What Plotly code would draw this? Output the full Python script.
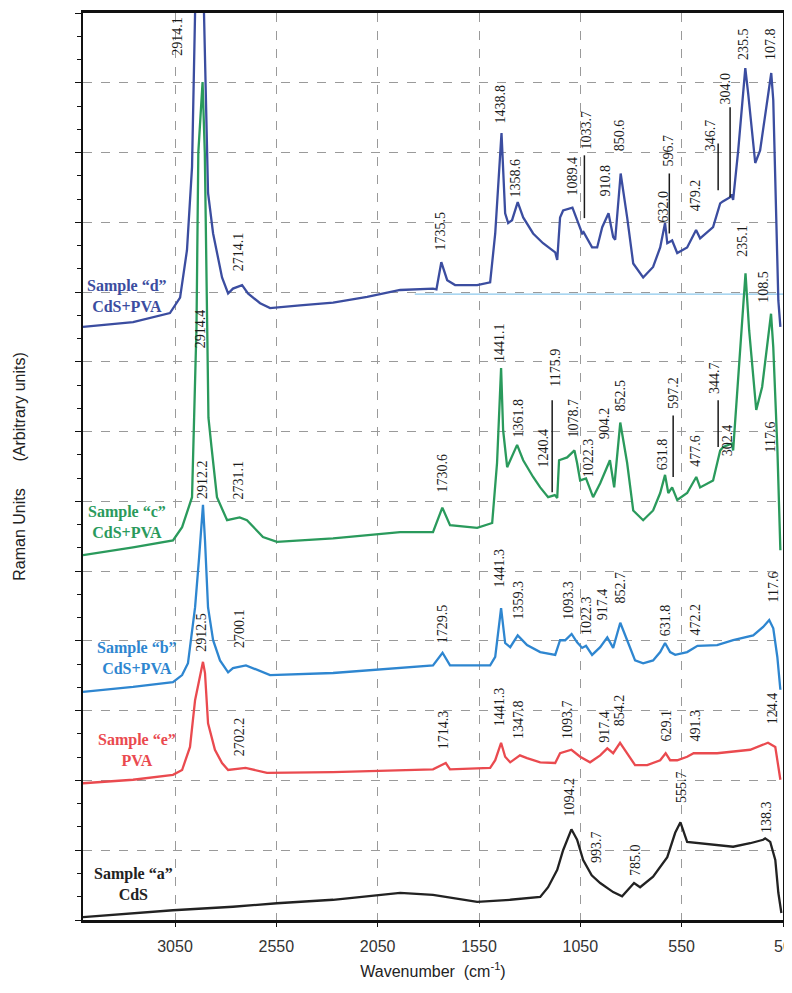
import plotly.graph_objects as go

# ---------------- data (wavenumber cm^-1, Raman intensity in arbitrary units) ----------------
d_wn = [3504, 3257, 3075, 3025, 2991, 2966, 2951, 2917, 2907, 2887, 2862, 2818, 2788, 2764, 2719, 2690,
        2630, 2581, 2433, 2270, 2102, 1939, 1777, 1760, 1736, 1707, 1668, 1559, 1495, 1470, 1439, 1421,
        1406, 1387, 1359, 1332, 1283, 1234, 1174, 1164, 1150, 1135, 1089, 1066, 1041, 1034, 1026, 992,
        967, 942, 911, 888, 878, 851, 819, 789, 740, 691, 656, 632, 621, 597, 572, 523, 479, 459, 395,
        360, 347, 311, 304, 296, 271, 236, 222, 187, 163, 108, 98, 73, 63]
d_int = [8.50, 8.57, 8.70, 8.92, 9.60, 10.79, 13.0, 14.5, 13.0, 10.42, 9.84, 9.21, 8.98, 9.05, 9.10, 8.98,
         8.84, 8.77, 8.81, 8.85, 8.93, 9.03, 9.05, 9.04, 9.43, 9.17, 9.10, 9.10, 9.14, 9.84, 11.28, 10.13,
         9.99, 10.03, 10.29, 10.07, 9.84, 9.70, 9.57, 9.46, 10.07, 10.17, 10.21, 10.03, 9.84, 9.86, 9.82, 9.64,
         9.64, 9.93, 10.13, 9.79, 9.75, 10.70, 10.07, 9.41, 9.21, 9.36, 9.64, 9.99, 9.70, 9.74, 9.56, 9.64, 9.89, 9.77, 9.93,
         10.27, 10.30, 10.36, 10.40, 10.32, 11.03, 12.21, 11.85, 10.85, 11.03, 12.14, 11.75, 8.88, 8.50]

c_wn = [3504, 3257, 3060, 3015, 2966, 2944, 2935, 2914, 2903, 2893, 2885, 2870, 2843, 2793, 2731, 2695,
        2616, 2547, 2270, 1939, 1777, 1731, 1693, 1559, 1485, 1461, 1441, 1431, 1411, 1362, 1332, 1283,
        1248, 1209, 1176, 1164, 1155, 1115, 1079, 1066, 1051, 1022, 987, 952, 904, 883, 853, 819, 789,
        740, 691, 656, 632, 616, 597, 572, 523, 478, 459, 395, 360, 345, 302, 296, 271, 235, 217, 182,
        153, 109, 98, 78, 63]
c_int = [5.23, 5.34, 5.44, 5.63, 6.06, 8.50, 11.0, 12.01, 11.0, 8.50, 7.20, 6.78, 6.06, 5.73, 5.77, 5.73,
         5.49, 5.42, 5.47, 5.56, 5.56, 5.91, 5.66, 5.62, 5.69, 6.55, 7.91, 7.02, 6.49, 6.81, 6.59, 6.35,
         6.20, 6.06, 6.09, 6.05, 6.59, 6.63, 6.73, 6.55, 6.30, 6.33, 6.06, 6.26, 6.59, 6.20, 7.13, 6.55, 5.87,
         5.73, 5.87, 6.12, 6.38, 6.12, 6.20, 6.02, 6.12, 6.35, 6.20, 6.30, 6.73, 6.78, 6.83, 6.73, 7.74, 9.27, 8.45, 7.31,
         7.64, 8.69, 8.21, 6.78, 5.30]

b_wn = [3504, 3257, 3060, 3015, 2986, 2951, 2931, 2912, 2902, 2887, 2862, 2828, 2788, 2764, 2700, 2645,
        2581, 2270, 1939, 1777, 1730, 1693, 1495, 1470, 1441, 1421, 1396, 1359, 1313, 1248, 1174, 1150,
        1125, 1093, 1066, 1041, 1022, 992, 952, 917, 888, 853, 819, 780, 740, 691, 656, 632, 607, 582,
        523, 472, 375, 296, 197, 148, 118, 98, 78, 63]
b_int = [3.27, 3.34, 3.41, 3.51, 3.68, 4.48, 5.20, 5.95, 5.44, 4.48, 4.01, 3.72, 3.55, 3.61, 3.65, 3.58,
         3.51, 3.54, 3.61, 3.65, 3.83, 3.65, 3.65, 3.77, 4.47, 3.97, 3.91, 4.08, 3.94, 3.84, 3.80, 4.01,
         4.01, 4.10, 3.98, 3.90, 3.93, 3.80, 3.91, 4.05, 3.90, 4.26, 4.01, 3.72, 3.68, 3.72, 3.84, 3.97, 3.84, 3.80,
         3.84, 3.93, 3.94, 4.01, 4.08, 4.20, 4.30, 4.18, 3.77, 3.30]

e_wn = [3504, 3257, 3060, 3015, 2976, 2951, 2912, 2902, 2887, 2853, 2818, 2788, 2702, 2596, 2270, 1939,
        1777, 1714, 1693, 1495, 1470, 1441, 1421, 1396, 1348, 1313, 1248, 1174, 1150, 1094, 1051, 1002,
        952, 917, 888, 854, 819, 780, 720, 656, 629, 607, 572, 523, 491, 375, 212, 124, 88, 73, 63]
e_int = [1.96, 2.01, 2.08, 2.15, 2.48, 3.15, 3.70, 3.54, 2.82, 2.44, 2.25, 2.15, 2.18, 2.11, 2.12, 2.15,
         2.16, 2.25, 2.16, 2.18, 2.29, 2.54, 2.34, 2.26, 2.36, 2.32, 2.26, 2.25, 2.39, 2.44, 2.34, 2.26,
         2.36, 2.46, 2.39, 2.54, 2.39, 2.22, 2.22, 2.29, 2.39, 2.29, 2.29, 2.34, 2.39, 2.39, 2.44, 2.54, 2.48, 2.19, 2.01]

a_wn = [3504, 3257, 3060, 2764, 2547, 2270, 1939, 1777, 1559, 1396, 1248, 1209, 1164, 1135, 1094, 1066,
        1036, 994, 952, 888, 844, 785, 755, 691, 621, 582, 556, 523, 459, 375, 296, 212, 148, 138, 113,
        88, 73, 58]
a_int = [0.04, 0.10, 0.14, 0.19, 0.24, 0.29, 0.39, 0.36, 0.26, 0.29, 0.33, 0.47, 0.72, 1.00, 1.30, 1.15,
         0.86, 0.64, 0.53, 0.40, 0.34, 0.53, 0.47, 0.62, 0.90, 1.25, 1.40, 1.12, 1.10, 1.07, 1.05, 1.10, 1.15, 1.17, 1.12,
         0.86, 0.39, 0.10]

# sample names, colours and label anchor
sample_names = ["Sample “d”<br>CdS+PVA", "Sample “c”<br>CdS+PVA", "Sample “b”<br>CdS+PVA",
                "Sample “e”<br>PVA", "Sample “a”<br>CdS"]
sample_colors = ["#3B4DA0", "#2A9A5C", "#2E86D0", "#EA4A4F", "#222222"]
sample_label_x = [3287, 3287, 3238, 3238, 3257]
sample_label_y = [8.95, 5.70, 3.75, 2.44, 0.52]

# peak labels: text, x (cm^-1), y (a.u.)
peak_text = ["2914.1", "2714.1", "1735.5", "1438.8", "1358.6", "1089.4", "1033.7", "910.8", "850.6",
             "632.0", "596.7", "479.2", "346.7", "304.0", "235.5", "107.8",
             "2914.4", "2731.1", "1730.6", "1441.1", "1361.8", "1240.4", "1175.9", "1078.7", "1022.3",
             "904.2", "852.5", "631.8", "597.2", "477.6", "344.7", "302.4", "235.1", "108.5", "117.6",
             "2912.2", "2700.1", "1729.5", "1441.3", "1359.3", "1093.3", "1022.3", "917.4", "852.7",
             "631.8", "472.2", "117.6",
             "2912.5", "2702.2", "1714.3", "1441.3", "1347.8", "1093.7", "917.4", "854.2", "629.1",
             "491.3", "124.4",
             "1094.2", "993.7", "785.0", "555.7", "138.3"]
peak_x = [3035, 2739, 1742, 1446, 1372, 1090, 1021, 928, 858, 641, 617, 483, 409, 335, 246, 113,
          2927, 2739, 1732, 1451, 1357, 1234, 1174, 1085, 1011, 933, 853, 641, 592, 483, 385, 320, 251, 148, 113,
          2917, 2734, 1732, 1451, 1357, 1110, 1016, 937, 853, 626, 483, 98,
          2917, 2734, 1727, 1451, 1352, 1110, 928, 853, 626, 483, 98,
          1105, 967, 780, 552, 128]
peak_y = [12.66, 9.57, 9.87, 11.69, 10.63, 10.66, 11.32, 10.60, 11.25, 10.23, 11.03, 10.39, 11.25, 11.92, 12.56, 12.56,
          8.48, 6.30, 6.40, 8.27, 7.19, 6.76, 7.92, 7.19, 6.62, 7.12, 7.52, 6.68, 7.56, 6.73, 7.77, 6.88, 9.74, 9.08, 6.92,
          6.32, 4.17, 4.24, 5.04, 4.58, 4.58, 4.36, 4.53, 4.77, 4.30, 4.31, 4.77,
          4.13, 2.62, 2.72, 3.05, 2.87, 2.87, 2.77, 3.01, 2.79, 2.79, 3.04,
          1.76, 1.05, 0.86, 1.91, 1.48]

# leader lines under some labels: x, y_top, y_bottom
leader_x = [1030, 611, 370, 311, 1189, 592, 370]
leader_y0 = [10.96, 10.70, 11.13, 11.65, 7.45, 7.23, 7.45]
leader_y1 = [10.06, 9.84, 10.46, 10.36, 6.13, 6.35, 6.78]

x_ticks = [3050, 2550, 2050, 1550, 1050, 550, 50]

# ---------------- figure ----------------
fig = go.Figure()
series = [(d_wn, d_int), (c_wn, c_int), (b_wn, b_int), (e_wn, e_int), (a_wn, a_int)]
for (xs, ys), col, name in zip(series, sample_colors, sample_names):
    fig.add_trace(go.Scatter(x=xs, y=ys, mode="lines", line=dict(color=col, width=2.3),
                             name=name.replace("<br>", " "), showlegend=False))

annotations = []
for txt, col, x, y in zip(sample_names, sample_colors, sample_label_x, sample_label_y):
    annotations.append(dict(x=x, y=y, xref="x", yref="y", text="<b>" + txt + "</b>", showarrow=False,
                            font=dict(family="Liberation Serif", size=16, color=col),
                            xanchor="center", yanchor="middle", align="center"))
for txt, x, y in zip(peak_text, peak_x, peak_y):
    annotations.append(dict(x=x, y=y, xref="x", yref="y", text=txt, showarrow=False, textangle=-90,
                            font=dict(family="Liberation Serif", size=14, color="#1a1a1a"),
                            xanchor="center", yanchor="middle"))

shapes = []
for x, y0, y1 in zip(leader_x, leader_y0, leader_y1):
    shapes.append(dict(type="line", xref="x", yref="y", x0=x, x1=x, y0=y0, y1=y1,
                       line=dict(color="#1a1a1a", width=1.5)))
# stray light-blue rule seen in the source figure
shapes.append(dict(type="line", xref="paper", yref="y", x0=0.474, x1=1.013, y0=8.97, y1=8.97,
                   line=dict(color="#8CC8EC", width=1.2), layer="below"))

# the page adds an 8px body margin, so the figure is sized to fit inside 792x993
fig.update_layout(
    width=784, height=985,
    margin=dict(l=75, r=9, t=5, b=73, autoexpand=False),
    paper_bgcolor="white", plot_bgcolor="white",
    annotations=annotations, shapes=shapes,
    xaxis=dict(range=[3504, 50], tickvals=x_ticks, ticktext=[str(v) for v in x_ticks],
               automargin=False,
               showgrid=True, gridcolor="#9a9a9a", griddash="dash", gridwidth=1,
               showline=True, linecolor="#111", linewidth=2.5, mirror=True,
               ticks="outside", ticklen=4, tickcolor="#111", ticklabelstandoff=6,
               tickfont=dict(family="Liberation Sans", size=16, color="#333"),
               title=dict(text="Wavenumber  (cm<sup>-1</sup>)", standoff=12,
                          font=dict(family="Liberation Sans", size=16, color="#222")),
               zeroline=False),
    yaxis=dict(range=[0, 13], dtick=1, tick0=0, showticklabels=False, automargin=False,
               showgrid=True, gridcolor="#9a9a9a", griddash="dash", gridwidth=1,
               showline=True, linecolor="#111", linewidth=2, mirror=True,
               ticks="outside", ticklen=6, tickcolor="#111",
               minor=dict(dtick=1/3, ticks="outside", ticklen=4, tickcolor="#111", showgrid=False),
               title=dict(text="Raman Units\u00a0\u00a0\u00a0\u00a0\u00a0\u00a0(Arbitrary units)", standoff=45,
                          font=dict(family="Liberation Sans", size=16, color="#222")),
               zeroline=False),
)

fig.write_html("out.html")
